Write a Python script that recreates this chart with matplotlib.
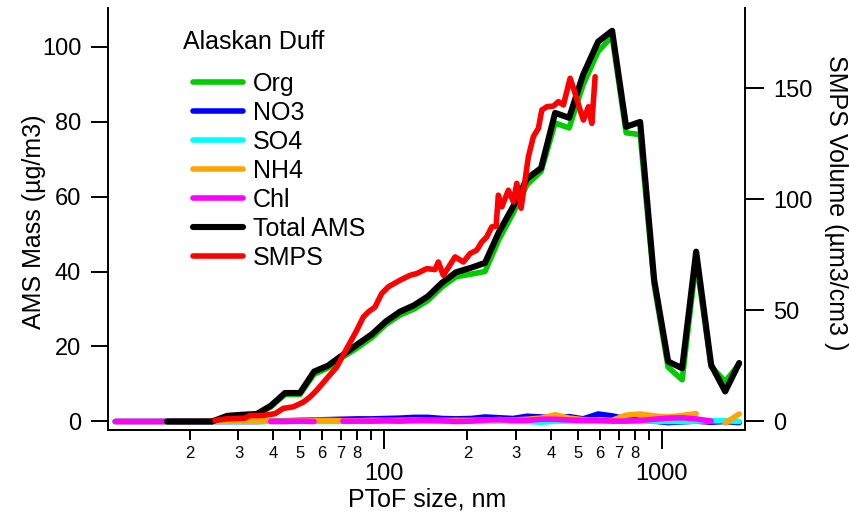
import numpy as np
import matplotlib
matplotlib.use("Agg")
import matplotlib.pyplot as plt
from matplotlib.ticker import FixedLocator, FuncFormatter, NullLocator

plt.rcParams['font.family'] = ['Liberation Sans', 'DejaVu Sans']

nan = np.nan

# ---- AMS PToF size bins (nm) ----
ams_size = [10.8, 12.0, 13.4, 14.9,
            16.6, 18.8, 21.3, 24.1, 27.3, 30.9, 34.9, 39.2, 44.1, 49.9,
            56.1, 63.0, 71.3, 80.1, 90.7, 101.8, 114.4, 128.5, 144.3, 162.0,
            182.0, 206.1, 231.4, 259.9, 292.0, 328.0, 368.3, 413.6, 464.5, 521.7,
            590.6, 663.4, 745.0, 836.8, 939.7, 1055, 1185, 1331, 1507, 1693, 1901]

total_ams = [nan, nan, nan, nan,
             0, 0, 0, 0, 1.5, 1.8, 2.0, 4.2, 7.6, 7.6,
             13.3, 14.9, 17.8, 20.5, 23.3, 26.7, 29.3, 31.0, 33.4, 37.0,
             39.8, 41.0, 42.3, 50.6, 57.3, 64.8, 67.6, 82.3, 81.0, 92.5,
             101.3, 104.2, 78.6, 79.9, 37.8, 16.0, 14.2, 45.3, 15.1, 8.0, 15.6]

org = [nan, nan, nan, nan,
       0, 0, 0, 0, 1.3, 1.6, 1.8, 3.9, 7.2, 7.2,
       12.6, 14.3, 17.2, 19.6, 22.4, 25.9, 28.4, 30.0, 32.3, 35.9,
       38.6, 39.3, 40.0, 48.6, 55.6, 63.2, 66.7, 79.6, 78.3, 89.8,
       98.7, 102.7, 77.0, 76.5, 36.5, 14.5, 11.1, 43.0, 14.6, 10.7, 15.3]

no3 = [0, 0, 0, 0,
       0, 0, 0, 0, 0, 0, 0, 0.1, 0.2, 0.3,
       0.4, 0.5, 0.6, 0.7, 0.7, 0.8, 0.9, 1.1, 1.1, 0.8,
       0.7, 0.8, 1.2, 1.0, 0.8, 1.4, 1.2, 1.0, 1.3, 0.7,
       2.0, 1.5, 0.7, 0.3, 0.1, -0.3, -0.1, 0.1, -0.2, 0.0, -0.3]

so4 = [0, 0, 0, 0,
       0, 0, 0, 0, 0, 0, 0, 0, 0, 0,
       0, 0, 0, 0, 0.1, 0.1, 0.1, 0.1, 0.1, 0.1,
       0.1, 0.1, 0.1, 0.1, 0.1, 0.0, -0.2, 0.1, 0.1, 0.1,
       0.1, 0.1, 0.1, 0.1, 0.1, 0.0, 0.0, 0.1, 0.2, 0.2, 0.0]

nh4 = [0, 0, 0, 0,
       0, 0, 0, 0.2, 0.3, 0.3, 0.2, 0.1, 0.1, 0.2,
       0.3, 0.3, 0.2, 0.2, 0.3, 0.3, 0.3, 0.4, 0.3, 0.3,
       0.3, 0.3, 0.4, 0.5, 0.4, 0.6, 0.9, 1.8, 0.9, 0.5,
       0.4, 0.3, 1.7, 2.0, 1.5, 1.2, 1.6, 2.1, nan, -0.4, 2.0]

chl = [0, 0, 0, 0,
       0, 0, 0, 0, nan, nan, nan, 0, 0, 0.1,
       0, nan, 0.1, 0.1, 0.1, 0.2, 0.1, 0.3, 0.3, 0.2,
       0.0, 0.1, 0.4, 0.5, 0.3, 0.3, 0.6, 0.6, 0.4, 0.3,
       0.3, 0.1, 0.1, 0.3, 0.6, 0.9, 1.0, 0.7, 0.1, nan, nan]

# ---- SMPS ----
smps_size = [24.67, 27.19, 31.64, 32.98, 36.73, 40.57, 43.47, 47.23, 51.31, 54.24,
             57.33, 62.30, 67.68, 73.53, 79.89, 84.40, 87.96, 92.96, 98.26, 103.8,
             114.4, 124.3, 131.4, 142.7, 152.9, 157.1, 163.8, 180.5, 193.4, 204.4,
             216.0, 225.2, 234.7, 244.7, 253.6, 258.4, 265.9, 280.8, 292.7, 301.1,
             312.0, 331.4, 345.4, 360.1, 370.4, 386.1, 407.8, 425.0, 443.0, 468.4,
             488.2, 508.8, 523.0, 545.1, 560.6, 576.2]
smps_vol = [0.5, 1.2, 1.5, 2.7, 2.7, 3.5, 5.9, 6.6, 8.7, 11.0,
            14.0, 19.3, 24.5, 32.8, 41.0, 47.0, 49.3, 51.5, 57.6, 60.6,
            63.6, 65.8, 66.6, 68.8, 68.4, 71.8, 65.8, 74.1, 71.8, 75.6,
            77.1, 80.8, 83.1, 87.6, 87.9, 101.9, 96.6, 104.1, 98.9, 107.2,
            96.0, 119.2, 128.2, 132.0, 140.2, 141.7, 142.0, 144.0, 142.5, 154.5,
            147.7, 140.2, 135.7, 141.7, 134.2, 155.2]

W, H = 849, 519
fig = plt.figure(figsize=(W / 100, H / 100), dpi=100)
L, R, B, T = 108.3, 745, 430, 8.3
ax = fig.add_axes([L / W, 1 - B / H, (R - L) / W, (B - T) / H])
ax2 = ax.twinx()

lw = 4.0
kw = dict(lw=lw, solid_capstyle='round', solid_joinstyle='round')
h_org, = ax.plot(ams_size, org, color='#00cc00', label='Org', **kw)
h_no3, = ax.plot(ams_size, no3, color='#0000ff', label='NO3', **kw)
h_so4, = ax.plot(ams_size, so4, color='#00ffff', label='SO4', **kw)
h_nh4, = ax.plot(ams_size, nh4, color='#ffa500', label='NH4', **kw)
h_chl, = ax.plot(ams_size, chl, color='#ff00ff', label='Chl', **kw)
h_tot, = ax.plot(ams_size, total_ams, color='black', label='Total AMS', lw=4.4,
                 solid_capstyle='round', solid_joinstyle='round')
h_smps, = ax2.plot(smps_size, smps_vol, color='#ff0000', label='SMPS', **kw)

ax.set_xscale('log')
ax.set_xlim(10.2, 1995)
ax.set_ylim(-2.27, 110.2)
ax2.set_ylim(-3.83, 186.0)

ax.xaxis.set_major_locator(FixedLocator([100, 1000]))
ax.xaxis.set_major_formatter(FuncFormatter(lambda v, p: '%d' % round(v)))
minor_ticks = [m * d for d in (10, 100) for m in range(2, 10)]
ax.xaxis.set_minor_locator(FixedLocator(minor_ticks))

def minor_fmt(v, pos):
    m = int(round(v / 10 ** np.floor(np.log10(v) + 1e-9)))
    return str(m) if m < 9 else ''

ax.xaxis.set_minor_formatter(FuncFormatter(minor_fmt))
ax.set_yticks([0, 20, 40, 60, 80, 100])
ax.yaxis.set_minor_locator(NullLocator())
ax2.set_yticks([0, 50, 100, 150])
ax2.yaxis.set_minor_locator(NullLocator())

ax.tick_params(axis='x', which='major', direction='out', length=14, width=1.4,
               pad=10, labelsize=17)
ax.tick_params(axis='x', which='minor', direction='out', length=7.2, width=1.4,
               pad=4.5, labelsize=12)
ax.tick_params(axis='y', which='major', direction='out', length=12.5, width=1.4,
               pad=7, labelsize=17)
ax2.tick_params(axis='y', which='major', direction='out', length=14, width=1.4,
                pad=6, labelsize=17)

for s in ['top', 'right']:
    ax.spines[s].set_visible(False)
for s in ['top', 'left', 'bottom']:
    ax2.spines[s].set_visible(False)
for s in ['left', 'bottom']:
    ax.spines[s].set_linewidth(1.4)
ax2.spines['right'].set_linewidth(1.4)

fig.text(34 / W, 1 - 222 / H, 'AMS Mass (µg/m3)', rotation=90, ha='center',
         va='center', fontsize=18)
fig.text(836 / W, 1 - 203 / H, 'SMPS Volume (µm3/cm3 )', rotation=270,
         ha='center', va='center', fontsize=18)
fig.text(427 / W, 1 - 500 / H, 'PToF size, nm', ha='center', va='center',
         fontsize=18)

fig.text(183 / W, 1 - 42 / H, 'Alaskan Duff', ha='left', va='center', fontsize=18)
ax.legend(handles=[h_org, h_no3, h_so4, h_nh4, h_chl, h_tot, h_smps],
          loc='upper left', bbox_to_anchor=(193 / W, 1 - 72 / H),
          bbox_transform=fig.transFigure, frameon=False, fontsize=18,
          borderpad=0, borderaxespad=0, handlelength=2.0, handletextpad=0.4,
          labelspacing=0.2)

fig.savefig('out.png', dpi=100)
